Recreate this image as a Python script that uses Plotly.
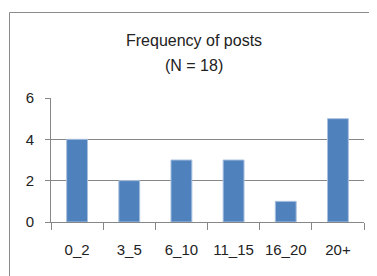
import plotly.graph_objects as go

categories = ["0_2", "3_5", "6_10", "11_15", "16_20", "20+"]
values = [4, 2, 3, 3, 1, 5]
title_line1 = "Frequency of posts"
title_line2 = "(N = 18)"

# the page body adds an 8px offset; work in screen pixels
OFF = 8
W, H = 369, 268
L, R, T, B = 51 - OFF, 13, 98 - OFF, 54
pw = W - L - R
ph = H - T - B

def px_x(x):
    return (x - OFF - L) / pw

def px_y(y):
    return 1 - (y - OFF - T) / ph

font = "Liberation Sans"
grey = "#878787"

fig = go.Figure(go.Bar(
    x=categories, y=values,
    marker=dict(color="#4F81BD", line=dict(color="#A9C0DF", width=1)),
))

fig.update_layout(
    width=W, height=H,
    margin=dict(l=L, r=R, t=T, b=B),
    paper_bgcolor="white", plot_bgcolor="white",
    showlegend=False,
    bargap=0.6,
    font=dict(family=font, size=14, color="#222222"),
    xaxis=dict(
        type="category", tickson="boundaries", ticks="outside", ticklen=7,
        tickcolor=grey, showline=True, linecolor=grey, linewidth=1,
        showgrid=False, tickfont=dict(size=15), ticklabelstandoff=14,
    ),
    yaxis=dict(
        range=[0, 6], tickvals=[0, 2, 4, 6], ticks="outside", ticklen=5,
        tickcolor=grey, showline=True, linecolor=grey, linewidth=1,
        showgrid=True, gridcolor=grey, gridwidth=1, zeroline=False,
        tickfont=dict(size=15), ticklabelstandoff=8,
    ),
    shapes=[dict(
        type="rect", xref="paper", yref="paper",
        x0=px_x(9.5), x1=px_x(420), y0=px_y(320), y1=px_y(12.5),
        line=dict(color="#8C8C8C", width=1), fillcolor="rgba(0,0,0,0)",
        layer="above",
    )],
    annotations=[
        dict(text=title_line1, xref="paper", yref="paper", x=px_x(194), y=px_y(41),
             xanchor="center", yanchor="middle", showarrow=False,
             font=dict(size=16, family=font, color="#222222")),
        dict(text=title_line2, xref="paper", yref="paper", x=px_x(194), y=px_y(65),
             xanchor="center", yanchor="middle", showarrow=False,
             font=dict(size=16, family=font, color="#222222")),
    ],
)

fig.write_html("out.html")
